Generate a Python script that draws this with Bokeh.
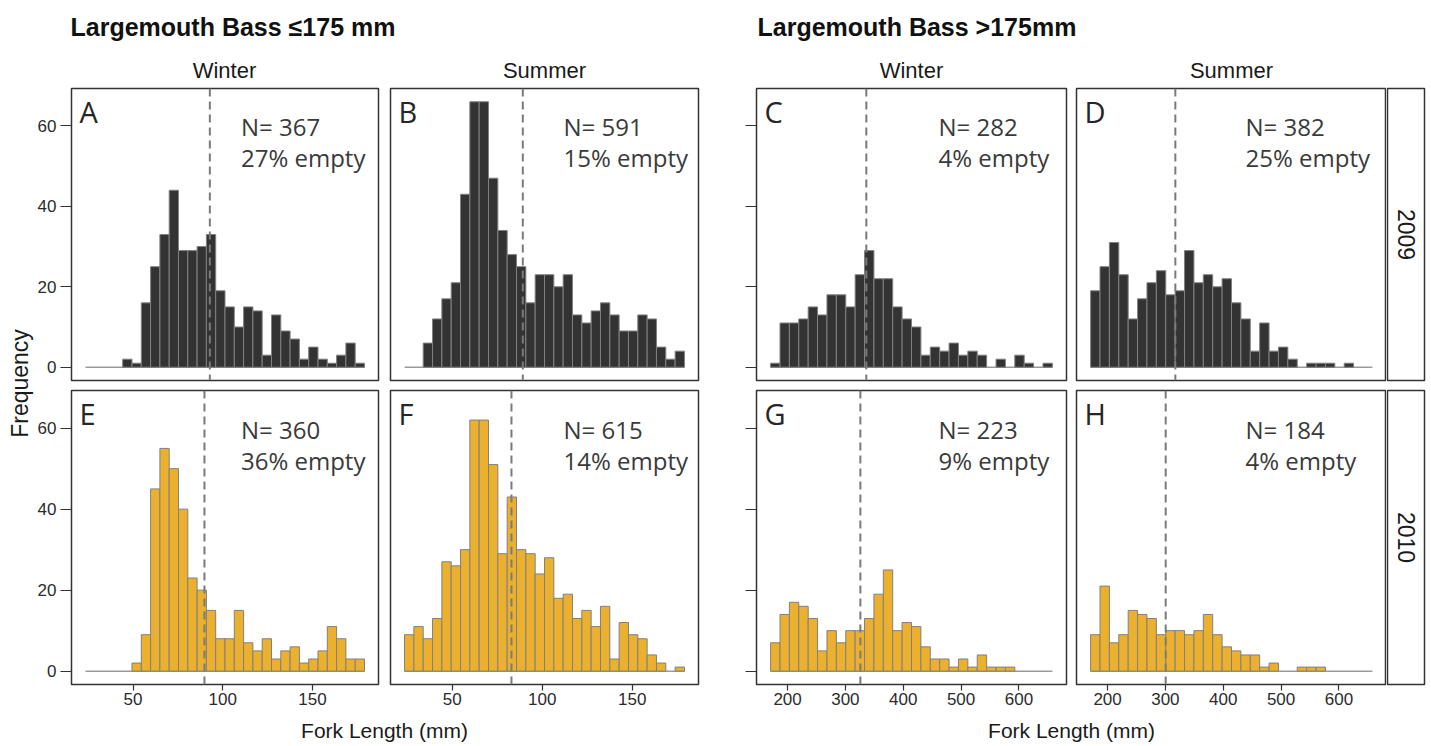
import numpy as np
from bokeh.plotting import figure
from bokeh.layouts import row, column
from bokeh.models import Range1d, Span, FixedTicker, Label
from bokeh.embed import file_html
from bokeh.resources import INLINE

# ---------------- data ----------------
title_small = "Largemouth Bass \u2264175 mm"
title_large = "Largemouth Bass >175mm"
seasons = ["Winter", "Summer"]
years = ["2009", "2010"]
panel_letters = ["A", "B", "C", "D", "E", "F", "G", "H"]

# histogram bin range (30 bins) for each size group
bins_small = (23.5, 179.0)
bins_large = (170.7, 657.9)
n_bins = 30

counts_A = [0, 0, 0, 0, 2, 1, 16, 25, 33, 44, 29, 29, 30, 33, 19, 15, 10, 15, 14, 3, 13, 9, 7, 2, 5, 2, 1, 3, 6, 1]
counts_B = [0, 0, 6, 12, 17, 21, 43, 66, 66, 47, 34, 28, 25, 16, 23, 23, 20, 23, 13, 11, 14, 16, 13, 9, 9, 13, 12, 5, 2, 4]
counts_C = [1, 11, 11, 12, 15, 13, 18, 18, 15, 23, 29, 22, 22, 15, 12, 10, 3, 5, 4, 6, 3, 4, 3, 0, 2, 0, 3, 1, 0, 1]
counts_D = [19, 25, 31, 23, 12, 17, 21, 24, 18, 19, 29, 21, 23, 20, 22, 16, 12, 4, 11, 4, 5, 2, 0, 1, 1, 1, 0, 1, 0, 0]
counts_E = [0, 0, 0, 0, 0, 2, 9, 45, 55, 50, 40, 23, 20, 15, 8, 8, 15, 7, 5, 8, 3, 5, 6, 2, 3, 5, 11, 8, 3, 3]
counts_F = [9, 11, 8, 13, 27, 26, 30, 62, 62, 51, 29, 43, 30, 29, 24, 28, 18, 19, 13, 15, 11, 16, 3, 12, 9, 8, 4, 2, 0, 1]
counts_G = [7, 14, 17, 16, 13, 5, 10, 7, 10, 10, 13, 19, 25, 10, 12, 11, 6, 3, 3, 1, 3, 1, 4, 1, 1, 1, 0, 0, 0, 0]
counts_H = [9, 21, 7, 9, 15, 14, 13, 9, 10, 10, 9, 10, 14, 9, 6, 5, 4, 4, 1, 2, 0, 0, 1, 1, 1, 0, 0, 0, 0, 0]

mean_lengths = [92.8, 89.2, 336.2, 317.2, 89.8, 82.9, 325.9, 300.5]
sample_n = [367, 591, 282, 382, 360, 615, 223, 184]
pct_empty = [27, 15, 4, 25, 36, 14, 9, 4]

y_ticks = [0, 20, 40, 60]
x_ticks_small = [50, 100, 150]
x_ticks_large = [200, 300, 400, 500, 600]

# ---------------- style ----------------
FILL_2009 = "#333333"
FILL_2010 = "#EBB12E"
BAR_LINE = "#808080"
AX_FONT = "Liberation Sans"
ANN_FONT = "Open Sans"
YR = (-3.3, 69.3)
XR_SMALL = (15.7, 186.8)
XR_LARGE = (146.3, 682.3)
BL = 9  # baseline correction (px)

all_counts = [counts_A, counts_B, counts_C, counts_D, counts_E, counts_F, counts_G, counts_H]

YLAB_W = 34
# column geometry: (min_border_left, frame_width, min_border_right)
col_geom = [(36, 308, 6), (6, 308, 18), (40, 310, 5), (5, 310, 0)]
# row geometry: (min_border_top, frame_height, min_border_bottom)
row_geom = [(2, 292, 5), (5, 294, 28)]
# text offsets (px from frame left) of N / % empty
text_off = [170, 173, 182, 169]


def make_panel(idx):
    r, c = divmod(idx, 4)
    mbl, fw, mbr = col_geom[c]
    mbt, fh, mbb = row_geom[r]
    small = c < 2
    xr = XR_SMALL if small else XR_LARGE
    lo, hi = bins_small if small else bins_large
    edges = np.linspace(lo, hi, n_bins + 1)
    counts = np.array(all_counts[idx])

    p = figure(width=mbl + fw + mbr, height=mbt + fh + mbb, title=None,
               x_range=Range1d(*xr), y_range=Range1d(*YR),
               output_backend="svg", toolbar_location=None, tools="",
               x_axis_location="below" if r == 1 else None,
               y_axis_location="left" if c in (0, 2) else None,
               min_border_left=mbl, min_border_right=mbr,
               min_border_top=mbt, min_border_bottom=mbb)
    p.grid.visible = False
    p.outline_line_color = "#333333"
    p.outline_line_width = 1.5
    p.background_fill_color = "white"
    p.border_fill_color = "white"

    # zero baseline across all bins
    p.segment(x0=[edges[0]], y0=[0], x1=[edges[-1]], y1=[0],
              line_color="#9a9a9a", line_width=1.5)
    m = counts > 0
    p.quad(left=edges[:-1][m], right=edges[1:][m], bottom=0, top=counts[m],
           fill_color=FILL_2009 if r == 0 else FILL_2010,
           line_color=BAR_LINE, line_width=1)

    p.add_layout(Span(location=mean_lengths[idx], dimension="height",
                      line_color="#7a7a7a", line_dash="8 5", line_width=2))

    ppx = fw / (xr[1] - xr[0])
    ppy = fh / (YR[1] - YR[0])
    p.add_layout(Label(x=xr[0] + 8 / ppx, y=YR[1] - (32 - BL) / ppy, text=panel_letters[idx],
                       text_font=ANN_FONT, text_font_size="29px", text_color="#262626",
                       text_baseline="alphabetic"))
    tx = xr[0] + text_off[c] / ppx
    p.add_layout(Label(x=tx, y=YR[1] - (46.5 + r - BL) / ppy, text=f"N= {sample_n[idx]}",
                       text_font=ANN_FONT, text_font_size="24px", text_color="#3a3a3a",
                       text_baseline="alphabetic"))
    p.add_layout(Label(x=tx, y=YR[1] - (78 + r - BL) / ppy, text=f"{pct_empty[idx]}% empty",
                       text_font=ANN_FONT, text_font_size="24px", text_color="#3a3a3a",
                       text_baseline="alphabetic"))

    for ax in p.yaxis:
        ax.ticker = FixedTicker(ticks=y_ticks)
        ax.axis_line_color = None
        ax.major_tick_out = 11
        ax.major_tick_in = 0
        ax.minor_tick_line_color = None
        ax.major_tick_line_color = "#333333"
        ax.major_tick_line_width = 1.2
        ax.major_label_text_font = AX_FONT
        ax.major_label_text_font_size = "17px"
        ax.major_label_text_color = "#2b2b2b"
        ax.major_label_standoff = 4
        if c == 2:
            ax.major_label_overrides = {t: "" for t in y_ticks}
    for ax in p.xaxis:
        ax.ticker = FixedTicker(ticks=x_ticks_small if small else x_ticks_large)
        ax.axis_line_color = None
        ax.major_tick_out = 6
        ax.major_tick_in = 0
        ax.minor_tick_line_color = None
        ax.major_tick_line_color = "#333333"
        ax.major_tick_line_width = 1.2
        ax.major_label_text_font = AX_FONT
        ax.major_label_text_font_size = "17px"
        ax.major_label_text_color = "#2b2b2b"
        ax.major_label_standoff = 2
    return p


def blank(w, h):
    p = figure(width=w, height=h, title=None, x_range=Range1d(0, w), y_range=Range1d(0, h),
               output_backend="svg", toolbar_location=None, tools="",
               x_axis_location=None, y_axis_location=None, min_border=0)
    p.grid.visible = False
    p.outline_line_color = None
    p.background_fill_color = "white"
    p.border_fill_color = "white"
    return p


panels = [make_panel(i) for i in range(8)]

TOTAL_W = 1426
HDR_H = 86
top_h = sum(row_geom[0])
bot_h = sum(row_geom[1])
FTR_H = 746 - HDR_H - top_h - bot_h

# header: group titles + season strips
hdr = blank(TOTAL_W, HDR_H)
hdr.add_layout(Label(x=70, y=HDR_H - 35 + BL, text=title_small, text_font=AX_FONT,
                     text_font_style="bold", text_font_size="25px", text_color="#111111",
                     text_baseline="alphabetic"))
hdr.add_layout(Label(x=757, y=HDR_H - 35 + BL, text=title_large, text_font=AX_FONT,
                     text_font_style="bold", text_font_size="25px", text_color="#111111",
                     text_baseline="alphabetic"))
x_left = YLAB_W
centers = []
for c, (mbl, fw, mbr) in enumerate(col_geom):
    centers.append(x_left + mbl + fw / 2)
    x_left += mbl + fw + mbr
for c, cx in enumerate(centers):
    hdr.add_layout(Label(x=cx, y=HDR_H - 79 + BL, text=seasons[c % 2], text_font=AX_FONT,
                         text_font_size="22px", text_color="#1a1a1a",
                         text_align="center", text_baseline="alphabetic"))

# y label
ylab = blank(YLAB_W, top_h + bot_h)
ylab.add_layout(Label(x=19, y=top_h + bot_h - 297, text="Frequency", text_font=AX_FONT,
                      text_font_size="23px", text_color="#1a1a1a", angle=np.pi / 2,
                      text_align="center", text_baseline="middle"))

# year strips
strips = []
for r in range(2):
    mbt, fh, mbb = row_geom[r]
    s = figure(width=40, height=mbt + fh + mbb, title=None,
               x_range=Range1d(0, 1), y_range=Range1d(0, 1),
               output_backend="svg", toolbar_location=None, tools="",
               x_axis_location=None, y_axis_location=None,
               min_border_left=1, min_border_right=2, min_border_top=mbt, min_border_bottom=mbb)
    s.grid.visible = False
    s.outline_line_color = "#333333"
    s.outline_line_width = 1.5
    s.background_fill_color = "white"
    s.border_fill_color = "white"
    s.add_layout(Label(x=0.5, y=0.5, text=years[r], text_font=AX_FONT, text_font_size="23px",
                       text_color="#1a1a1a", angle=-np.pi / 2,
                       text_align="center", text_baseline="middle"))
    strips.append(s)

# footer x labels
ftr = blank(TOTAL_W, FTR_H)
a_left = YLAB_W + col_geom[0][0]
b_right = YLAB_W + sum(col_geom[0]) + col_geom[1][0] + col_geom[1][1]
x0r = YLAB_W + sum(col_geom[0]) + sum(col_geom[1])
c_left = x0r + col_geom[2][0]
d_right = x0r + sum(col_geom[2]) + col_geom[3][0] + col_geom[3][1]
for cx in ((a_left + b_right) / 2, (c_left + d_right) / 2):
    ftr.add_layout(Label(x=cx, y=7 + BL, text="Fork Length (mm)", text_font=AX_FONT,
                         text_font_size="21px", text_color="#1a1a1a",
                         text_align="center", text_baseline="alphabetic"))

grid = row(ylab,
           column(panels[0], panels[4]),
           column(panels[1], panels[5]),
           column(panels[2], panels[6]),
           column(panels[3], panels[7]),
           column(strips[0], strips[1]))
layout = column(hdr, grid, ftr)

open("out.html", "w").write(file_html(layout, INLINE))
